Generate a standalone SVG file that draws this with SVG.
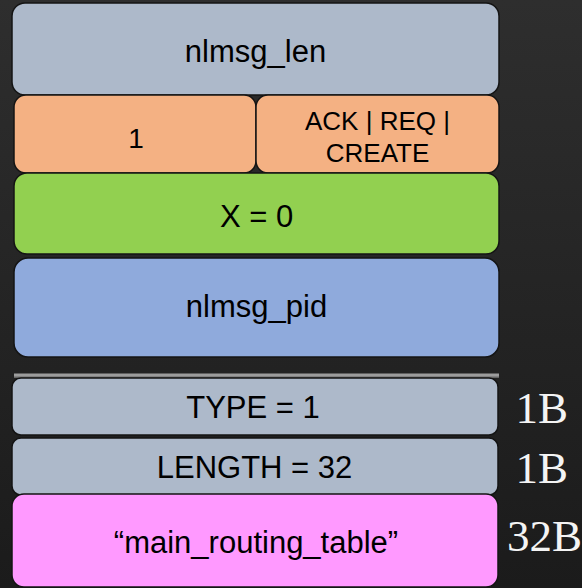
<svg xmlns="http://www.w3.org/2000/svg" width="582" height="588" viewBox="0 0 582 588">
  <defs>
    <linearGradient id="bg" x1="0" y1="0" x2="0" y2="1">
      <stop offset="0" stop-color="#2e2e2e"/>
      <stop offset="1" stop-color="#1b1b1b"/>
    </linearGradient>
    <style>
      .box { stroke: #141414; stroke-width: 1.5; }
      .lbl { font-family: "Liberation Sans", Arial, sans-serif; fill: #000; text-anchor: middle; }
      .size { font-family: "Liberation Serif", "Times New Roman", serif; font-size: 45px; fill: #f4f4f4; }
    </style>
  </defs>

  <rect width="582" height="588" fill="url(#bg)"/>

  <!-- netlink header fields -->
  <g id="nlmsg_len">
    <rect class="box" x="12" y="3" width="487" height="92" rx="13" fill="#adb9ca"/>
    <text class="lbl" x="255.5" y="61.5" font-size="31">nlmsg_len</text>
  </g>
  <g id="nlmsg_type">
    <rect class="box" x="14" y="95" width="242" height="78" rx="12" fill="#f4b183"/>
    <text class="lbl" x="136" y="148.3" font-size="28">1</text>
  </g>
  <g id="nlmsg_flags">
    <rect class="box" x="256" y="95" width="243" height="78" rx="12" fill="#f4b183"/>
    <text class="lbl" x="377.5" y="130" font-size="26">ACK | REQ |</text>
    <text class="lbl" x="377.5" y="161.5" font-size="26">CREATE</text>
  </g>
  <g id="nlmsg_seq">
    <rect class="box" x="14" y="173" width="485" height="81" rx="13" fill="#92d050"/>
    <text class="lbl" x="256.5" y="226.5" font-size="31">X = 0</text>
  </g>
  <g id="nlmsg_pid">
    <rect class="box" x="14" y="258" width="485" height="99" rx="14" fill="#8faadc"/>
    <text class="lbl" x="256.5" y="317.3" font-size="31">nlmsg_pid</text>
  </g>

  <!-- divider between header and attribute -->
  <g id="divider">
    <rect x="14" y="373.5" width="485" height="4" fill="#9c9c9c"/>
    <rect x="14" y="376.5" width="485" height="1" fill="#6a6a6a"/>
  </g>

  <!-- attribute (TLV) -->
  <g id="attr_type">
    <rect class="box" x="12" y="378" width="486" height="57" rx="9" fill="#adb9ca"/>
    <text class="lbl" x="253" y="418.3" font-size="31">TYPE = 1</text>
    <text class="size" x="515.5" y="422.7">1B</text>
  </g>
  <g id="attr_length">
    <rect class="box" x="12" y="438" width="486" height="57" rx="9" fill="#adb9ca"/>
    <text class="lbl" x="254.5" y="478.3" font-size="31">LENGTH = 32</text>
    <text class="size" x="515.5" y="483">1B</text>
  </g>
  <g id="attr_value">
    <rect class="box" x="12" y="494" width="486" height="93" rx="12" fill="#ff99ff"/>
    <text class="lbl" x="256" y="553" font-size="31">“main_routing_table”</text>
    <text class="size" x="507" y="551">32B</text>
  </g>

  <g id="connectors"/>
</svg>
